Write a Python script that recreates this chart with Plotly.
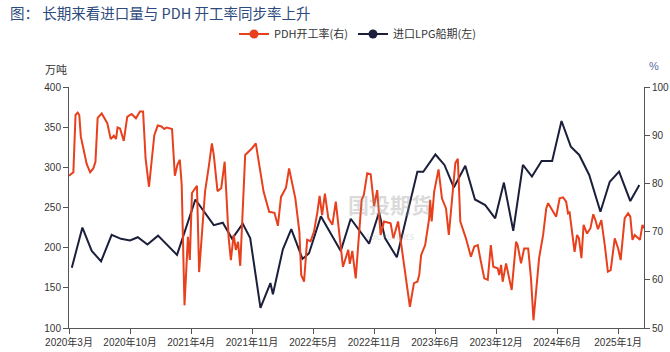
import plotly.graph_objects as go

# ---- Data ----
pdh_dates = [
    "2020-03-20","2020-04-03","2020-04-10","2020-04-17","2020-04-22","2020-04-27","2020-05-05","2020-05-16","2020-05-27",
    "2020-06-06","2020-06-13","2020-06-20","2020-07-03","2020-07-13","2020-07-21","2020-08-01","2020-08-11","2020-08-18",
    "2020-08-23","2020-08-31","2020-09-12","2020-09-23","2020-10-07","2020-10-21","2020-11-03","2020-11-13","2020-11-21",
    "2020-12-02","2020-12-19","2020-12-30","2021-01-11","2021-01-20","2021-01-28","2021-02-14","2021-02-23","2021-03-03",
    "2021-03-11","2021-03-17","2021-03-26","2021-04-06","2021-04-12","2021-04-19","2021-05-05","2021-05-12","2021-05-31",
    "2021-06-12","2021-06-22","2021-06-28","2021-07-10","2021-07-22","2021-08-02","2021-08-15","2021-08-22","2021-08-31",
    "2021-09-07","2021-09-14","2021-09-21","2021-10-07","2021-10-29","2021-11-10","2021-12-05","2021-12-23","2022-01-09",
    "2022-01-20","2022-01-30","2022-02-15","2022-02-25","2022-03-08","2022-03-17","2022-03-30","2022-04-05","2022-04-14",
    "2022-04-24","2022-05-05","2022-05-16","2022-05-27","2022-06-03","2022-06-11","2022-06-20","2022-07-01","2022-07-14",
    "2022-07-25","2022-08-04","2022-08-17","2022-09-03","2022-09-08","2022-09-16","2022-09-27","2022-10-16","2022-10-23",
    "2022-11-03","2022-11-14","2022-11-25","2022-12-05","2022-12-16","2022-12-27","2023-01-17","2023-01-26","2023-02-10",
    "2023-02-23","2023-03-06","2023-03-20","2023-04-02","2023-04-13","2023-04-19","2023-04-25","2023-05-08","2023-05-21",
    "2023-05-24","2023-05-29","2023-06-06","2023-06-20","2023-07-01","2023-07-14","2023-07-23","2023-08-04","2023-08-13",
    "2023-08-21","2023-08-29","2023-09-16","2023-10-02","2023-10-13","2023-10-24","2023-11-03","2023-11-14","2023-11-25",
    "2023-12-05","2023-12-13","2023-12-27","2024-01-01","2024-01-07","2024-01-12","2024-01-23","2024-02-02","2024-02-10",
    "2024-02-24","2024-02-29","2024-03-11","2024-03-21","2024-04-03","2024-04-12","2024-04-20","2024-04-27","2024-05-08",
    "2024-05-21","2024-05-31","2024-06-06","2024-06-20","2024-07-02","2024-07-13","2024-07-24","2024-08-03","2024-08-09",
    "2024-08-14","2024-08-19","2024-08-30","2024-09-07","2024-09-13","2024-09-21","2024-09-28","2024-10-09","2024-10-20",
    "2024-10-29","2024-11-05","2024-11-13","2024-11-24","2024-12-05","2024-12-15","2024-12-24","2025-01-06","2025-01-17",
    "2025-01-25","2025-02-07","2025-02-18","2025-02-25","2025-03-04","2025-03-11","2025-03-22","2025-03-28","2025-04-05",
    "2025-04-10",
]
pdh_rate = [
    81.6, 82.3, 94.2, 94.7, 94.2, 89.7, 87.3, 84.0, 82.3,
    83.1, 84.5, 93.6, 94.5, 93.2, 92.5, 89.2, 89.9, 89.2,
    91.6, 91.4, 88.8, 93.8, 94.4, 93.5, 94.9, 94.9, 85.2,
    79.3, 90.0, 92.0, 91.8, 91.3, 91.6, 91.3, 81.6, 83.8,
    84.9, 79.7, 54.7, 68.9, 64.1, 78.0, 79.5, 61.6, 78.3,
    83.5, 88.3, 85.9, 78.4, 79.0, 84.5, 68.6, 64.1, 69.3,
    66.2, 67.9, 62.9, 85.9, 87.3, 88.3, 78.3, 74.1, 73.9,
    71.2, 77.2, 79.1, 83.1, 79.7, 76.9, 70.0, 61.0, 59.6,
    68.3, 68.0, 70.0, 74.1, 77.4, 73.4, 77.9, 72.8, 71.4,
    76.2, 70.0, 62.7, 66.2, 63.3, 66.0, 60.3, 76.6, 77.6,
    82.1, 81.9, 75.3, 78.6, 69.3, 72.1, 71.7, 68.6, 72.1,
    65.8, 60.3, 54.4, 59.3, 59.6, 61.0, 65.1, 67.2, 72.8,
    76.6, 72.1, 78.3, 82.9, 76.9, 74.8, 69.3, 77.9, 84.2,
    85.1, 72.1, 68.6, 64.8, 66.9, 67.2, 63.8, 60.3, 60.0,
    67.2, 62.7, 62.4, 61.0, 63.1, 59.6, 63.4, 60.3, 57.9,
    67.9, 67.2, 63.4, 66.5, 66.5, 60.3, 51.6, 56.2, 64.5,
    69.3, 74.8, 75.9, 74.5, 73.1, 76.9, 77.1, 76.2, 73.8,
    74.0, 71.4, 65.8, 69.3, 68.6, 64.5, 71.4, 69.6, 70.7,
    73.6, 72.4, 70.5, 72.4, 67.2, 61.7, 62.0, 68.6, 66.5,
    64.1, 72.8, 73.8, 73.1, 68.3, 69.3, 68.6, 68.3, 71.4,
    70.7,
]

lpg_dates = [
    "2020-03-29","2020-05-02","2020-06-01","2020-07-01","2020-08-04","2020-09-03","2020-10-02","2020-10-27",
    "2020-11-27","2020-12-31","2021-03-02","2021-04-30","2021-06-28","2021-07-27","2021-08-26","2021-09-29",
    "2021-10-23","2021-11-25","2021-12-27","2022-01-04","2022-02-05","2022-03-04","2022-04-09","2022-04-30",
    "2022-06-07","2022-08-10","2022-09-11","2022-11-09","2022-12-11","2022-12-30","2023-02-06","2023-04-13",
    "2023-05-02","2023-06-10","2023-07-09","2023-08-08","2023-09-14","2023-10-15","2023-11-17","2023-12-19",
    "2024-01-16","2024-02-15","2024-03-17","2024-04-15","2024-05-16","2024-06-19","2024-07-19","2024-08-18",
    "2024-09-14","2024-10-16","2024-11-21","2024-12-21","2025-01-20","2025-02-25","2025-03-26",
]
lpg_volume = [
    175, 225, 196, 183, 216, 211, 209, 213,
    204, 215, 191, 260, 228, 231, 211, 230,
    212, 125, 156, 142, 198, 223, 186, 193,
    239, 196, 236, 205, 244, 212, 188, 294.6,
    294.4, 316, 303, 275, 302, 260, 253, 236.5,
    281, 221, 303, 288.5, 308, 308, 357.7, 325.7,
    315.4, 290.5, 244.8, 282, 294.6, 258, 278,
]

tick_dates = ["2020-03-20","2020-10-02","2021-04-16","2021-10-29","2022-05-13",
              "2022-11-25","2023-06-09","2023-12-22","2024-07-05","2025-01-17"]
tick_labels = ["2020年3月","2020年10月","2021年4月","2021年11月","2022年5月",
               "2022年11月","2023年6月","2023年12月","2024年6月","2025年1月"]

RED = "#E8401C"
NAVY = "#1B1F3B"
AXIS = "#555555"
TICKFONT = dict(family="Liberation Sans Narrow, Liberation Sans, Arial", size=10, color="#333333")
CJK = "Noto Sans CJK SC"

# plot-area pixel geometry (for placing paper-referenced texts)
L, R, T, B = 69, 644, 87, 328
PW, PH = R - L, B - T

fig = go.Figure()
fig.add_trace(go.Scatter(
    x=pdh_dates, y=pdh_rate, name="PDH开工率(右)", yaxis="y2",
    mode="lines", line=dict(color=RED, width=2), showlegend=False,
))
fig.add_trace(go.Scatter(
    x=lpg_dates, y=lpg_volume, name="进口LPG船期(左)", yaxis="y",
    mode="lines", line=dict(color=NAVY, width=2), showlegend=False,
))
# legend entries (line + marker symbols)
fig.add_trace(go.Scatter(x=[None], y=[None], name="PDH开工率(右)", mode="lines+markers",
                         line=dict(color=RED, width=2), marker=dict(color=RED, size=9)))
fig.add_trace(go.Scatter(x=[None], y=[None], name="进口LPG船期(左)", mode="lines+markers",
                         line=dict(color=NAVY, width=2), marker=dict(color=NAVY, size=9)))

fig.update_layout(
    width=670, height=352,
    margin=dict(l=L, r=670 - R, t=T, b=352 - B, autoexpand=False),
    paper_bgcolor="white", plot_bgcolor="white",
    showlegend=True,
    legend=dict(orientation="h", x=(234 - L) / PW, xanchor="left", y=1.0 + (T - 34) / PH, yanchor="middle",
                font=dict(family=CJK, size=11, color="#333333"),
                itemwidth=30, tracegroupgap=0, bgcolor="rgba(0,0,0,0)"),
    xaxis=dict(
        type="date", range=["2020-03-20", "2025-04-10"],
        tickvals=tick_dates, ticktext=tick_labels,
        showline=True, linecolor=AXIS, linewidth=1,
        ticks="outside", ticklen=5, tickcolor=AXIS,
        showgrid=False, zeroline=False, automargin=False,
        tickfont=dict(family="Liberation Sans Narrow, Liberation Sans, Noto Sans CJK SC", size=10, color="#333333"),
    ),
    yaxis=dict(
        range=[100, 400], dtick=50, tick0=100,
        showline=True, linecolor=AXIS, linewidth=1,
        ticks="outside", ticklen=5, tickcolor=AXIS,
        showgrid=False, zeroline=False, tickfont=TICKFONT, automargin=False,
    ),
    yaxis2=dict(
        range=[50, 100], dtick=10, tick0=50, overlaying="y", side="right",
        showline=True, linecolor=AXIS, linewidth=1,
        ticks="outside", ticklen=5, tickcolor=AXIS,
        showgrid=False, zeroline=False, tickfont=TICKFONT, automargin=False,
    ),
    annotations=[
        dict(text="图： 长期来看进口量与 PDH 开工率同步率上升", xref="paper", yref="paper",
             x=(8 - L) / PW, y=1.0 + (T - 12) / PH,
             showarrow=False, xanchor="left", yanchor="middle",
             font=dict(family=CJK, size=14.5, color="#2C4A7C")),
        dict(text="万吨", xref="paper", yref="paper", x=(69 - L) / PW, y=1.0 + (T - 69) / PH,
             showarrow=False, xanchor="right", yanchor="middle",
             font=dict(family=CJK, size=11, color="#333333")),
        dict(text="%", xref="paper", yref="paper", x=(654 - L) / PW, y=1.0 + (T - 66) / PH,
             showarrow=False, xanchor="center", yanchor="middle",
             font=dict(family="Liberation Sans", size=11, color="#5a6aa0")),
        dict(text="<b>国投期货</b><br><span style='font-size:7px'>SDIC FUTURES</span>",
             xref="paper", yref="paper", x=(390 - L) / PW, y=1.0 - (215 - T) / PH,
             showarrow=False, xanchor="center", yanchor="middle",
             font=dict(family=CJK, size=21, color="rgba(150,150,150,0.35)")),
    ],
)

fig.write_html("out.html")
